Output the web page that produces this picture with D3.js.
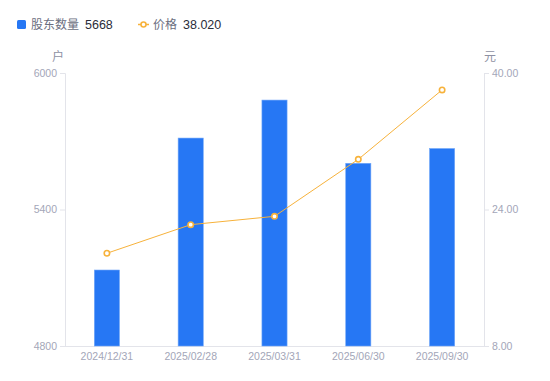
<!DOCTYPE html>
<html>
<head>
<meta charset="utf-8">
<script src="https://cdn.jsdelivr.net/npm/d3@7"></script>
<style>
    body { margin: 0; background: #fff; }
    svg text { font-family: "Noto Sans CJK SC", "Noto Sans", sans-serif; }
</style>
</head>
<body>
<svg id="chart"></svg>
<script>
const categories = ['2024/12/31', '2025/02/28', '2025/03/31', '2025/06/30', '2025/09/30'];
const holders = [5134, 5714, 5881, 5603, 5668];
const prices = [18.87, 22.22, 23.20, 29.88, 38.02];
const leftTicks = [4800, 5400, 6000];
const rightTicks = [8, 24, 40];

const width = 550;
const height = 381;
const margin = { top: 73, right: 66, bottom: 35, left: 65 };

const barColor = '#2677f4';
const lineColor = '#f7b23b';
const tickColor = '#a3a6b8';
const axisColor = '#e3e4ea';
const numFont = '"Liberation Sans", Arial, sans-serif';

const svg = d3.select('#chart')
    .attr('width', width)
    .attr('height', height);

const x = d3.scaleBand()
    .domain(categories)
    .range([margin.left, width - margin.right])
    .paddingInner(0.7)
    .paddingOuter(0.35);

const yLeft = d3.scaleLinear()
    .domain([4800, 6000])
    .range([height - margin.bottom, margin.top]);

const yRight = d3.scaleLinear()
    .domain([8, 40])
    .range([height - margin.bottom, margin.top]);

// axes
const leftAxis = svg.append('g')
    .attr('transform', `translate(${margin.left},0)`)
    .call(d3.axisLeft(yLeft).tickValues(leftTicks).tickSize(5).tickPadding(3)
        .tickFormat(d3.format('d')));

const rightAxis = svg.append('g')
    .attr('transform', `translate(${width - margin.right},0)`)
    .call(d3.axisRight(yRight).tickValues(rightTicks).tickSize(5).tickPadding(3)
        .tickFormat(d3.format('.2f')));

const bottomAxis = svg.append('g')
    .attr('transform', `translate(0,${height - margin.bottom})`)
    .call(d3.axisBottom(x).tickSize(0).tickPadding(7));

[leftAxis, rightAxis, bottomAxis].forEach(g => {
    g.select('.domain').attr('stroke', axisColor);
    g.selectAll('.tick line').attr('stroke', axisColor);
    g.selectAll('.tick text')
        .attr('fill', tickColor)
        .attr('font-size', 10.5)
        .style('font-family', numFont);
});

// bottom line extends over ticks
bottomAxis.select('.domain').remove();
svg.append('line')
    .attr('x1', margin.left - 5)
    .attr('x2', width - margin.right + 5)
    .attr('y1', height - margin.bottom + 0.5)
    .attr('y2', height - margin.bottom + 0.5)
    .attr('stroke', axisColor);

// unit labels
svg.append('text')
    .attr('x', margin.left - 7)
    .attr('y', 61)
    .attr('text-anchor', 'middle')
    .attr('font-size', 12)
    .attr('fill', '#8e91a3')
    .text('户');

svg.append('text')
    .attr('x', width - margin.right + 6)
    .attr('y', 61)
    .attr('text-anchor', 'middle')
    .attr('font-size', 12)
    .attr('fill', '#8e91a3')
    .text('元');

// bars
svg.append('g')
    .selectAll('rect')
    .data(holders)
    .enter().append('rect')
    .attr('x', (d, i) => x(categories[i]))
    .attr('y', d => yLeft(d))
    .attr('width', x.bandwidth())
    .attr('height', d => yLeft(4800) - yLeft(d))
    .attr('fill', barColor)
    .attr('stroke', '#6fa6f8')
    .attr('stroke-width', 0.6);

// price line
const line = d3.line()
    .x((d, i) => x(categories[i]) + x.bandwidth() / 2)
    .y(d => yRight(d));

svg.append('path')
    .datum(prices)
    .attr('d', line)
    .attr('fill', 'none')
    .attr('stroke', lineColor)
    .attr('stroke-width', 1);

svg.append('g')
    .selectAll('circle')
    .data(prices)
    .enter().append('circle')
    .attr('cx', (d, i) => x(categories[i]) + x.bandwidth() / 2)
    .attr('cy', d => yRight(d))
    .attr('r', 2.7)
    .attr('fill', '#fff')
    .attr('stroke', lineColor)
    .attr('stroke-width', 1.6);

// legend
const legend = svg.append('g');

legend.append('rect')
    .attr('x', 17).attr('y', 20)
    .attr('width', 9).attr('height', 9)
    .attr('rx', 1.5)
    .attr('fill', barColor);

legend.append('text')
    .attr('x', 31).attr('y', 29)
    .attr('font-size', 12)
    .attr('fill', '#6b6e80')
    .text('股东数量');

legend.append('text')
    .attr('x', 85).attr('y', 29)
    .attr('font-size', 12.5)
    .attr('fill', '#2b2d3a')
    .style('font-family', numFont)
    .text(holders[holders.length - 1]);

legend.append('line')
    .attr('x1', 138).attr('x2', 149)
    .attr('y1', 24.5).attr('y2', 24.5)
    .attr('stroke', lineColor)
    .attr('stroke-width', 1.5);

legend.append('circle')
    .attr('cx', 143.5).attr('cy', 24.5)
    .attr('r', 2.5)
    .attr('fill', '#fff')
    .attr('stroke', lineColor)
    .attr('stroke-width', 1.6);

legend.append('text')
    .attr('x', 153).attr('y', 29)
    .attr('font-size', 12)
    .attr('fill', '#6b6e80')
    .text('价格');

legend.append('text')
    .attr('x', 183).attr('y', 29)
    .attr('font-size', 12.5)
    .attr('fill', '#2b2d3a')
    .style('font-family', numFont)
    .text(d3.format('.3f')(prices[prices.length - 1]));
</script>
</body>
</html>
